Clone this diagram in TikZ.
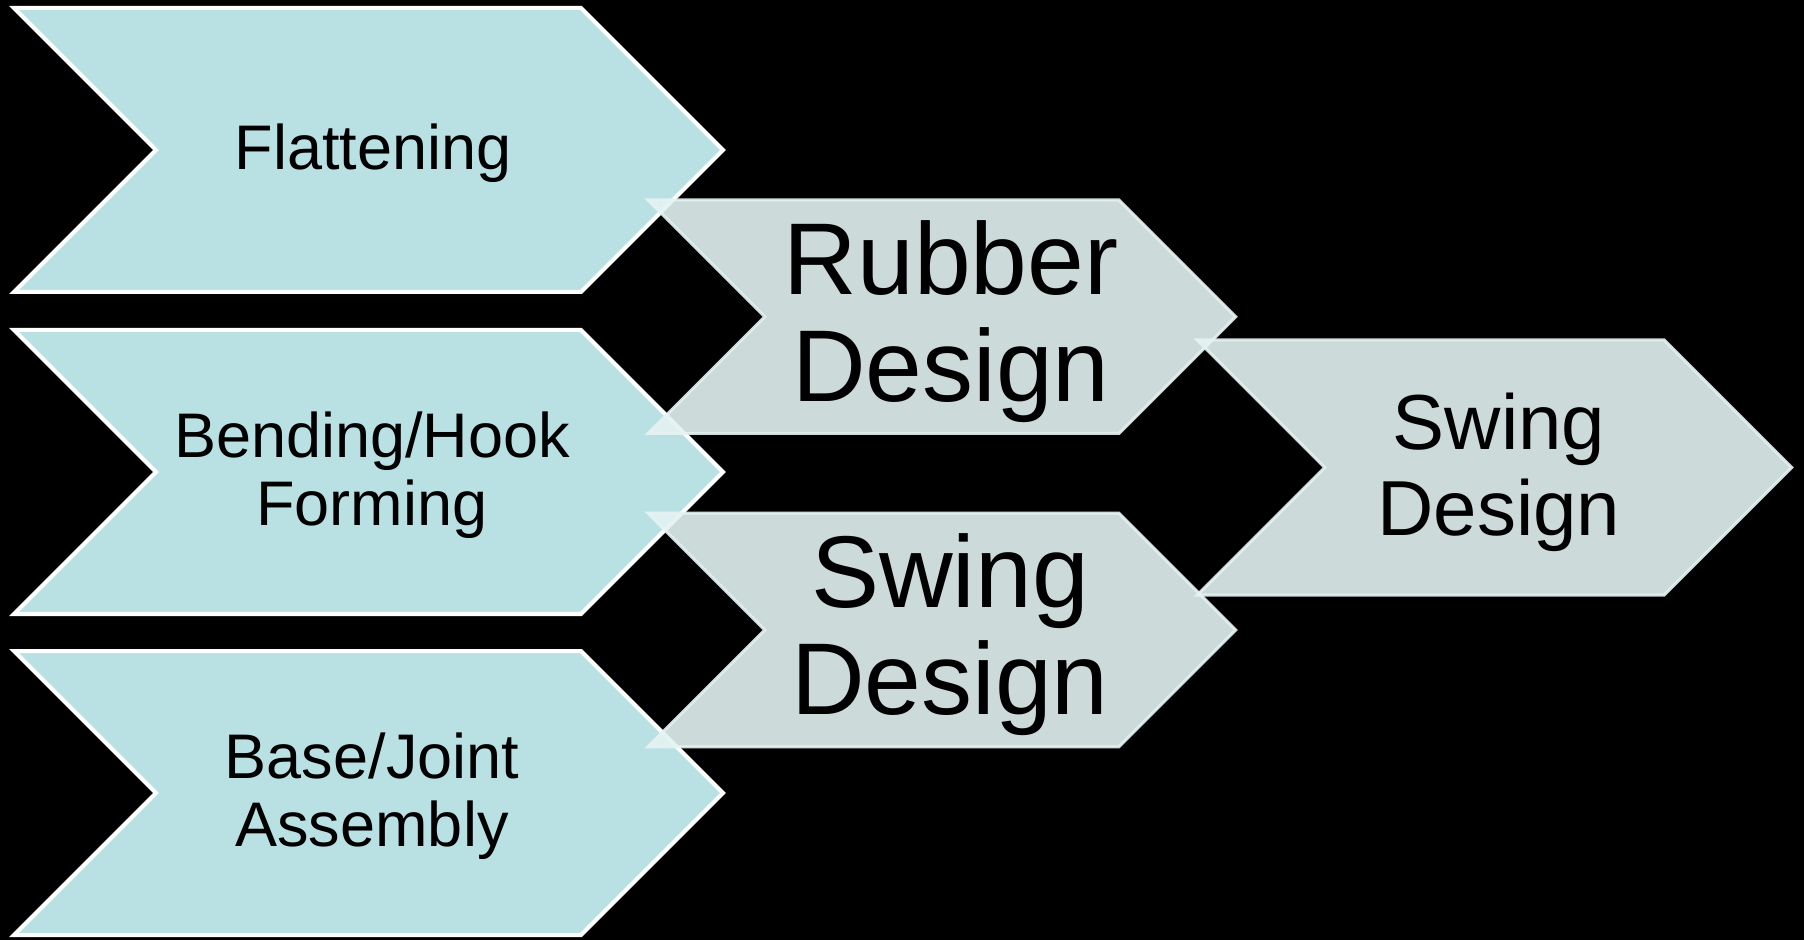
\documentclass[tikz,border=0pt]{standalone}
\usepackage{fontspec}
\setmainfont{Liberation Sans}
\definecolor{bluefill}{HTML}{B9E0E3}
\definecolor{grayfill}{HTML}{E3F2F2}
\definecolor{grayedge}{HTML}{E6F3F3}
\newcommand{\chevshape}[5][]{% [style] xl, yc, xr, h
  \path[#1] (#2,#3-#5) -- (#4,#3-#5) -- (#4+#5,#3) -- (#4,#3+#5) -- (#2,#3+#5) -- (#2+#5,#3) -- cycle;}
\tikzset{
  bluechev/.style={fill=bluefill, draw=white, line width=2pt, line join=miter},
  graychev/.style={fill=grayfill, fill opacity=0.9, draw=grayedge, draw opacity=0.9, line width=1.5pt, line join=miter},
  lefttext/.style={align=center, font=\fontsize{31.5}{34}\selectfont, text=black, inner sep=0pt},
  bigtext/.style={align=center, font=\fontsize{51}{53.5}\selectfont, text=black, inner sep=0pt},
  righttext/.style={align=center, font=\fontsize{39}{43}\selectfont, text=black, inner sep=0pt}
}
\begin{document}
\begin{tikzpicture}[x=0.5pt, y=-0.5pt]
\useasboundingbox (0,0) rectangle (1804,940);
\fill[black] (0,0) rectangle (1804,940);
% left chevrons
\chevshape[bluechev]{14}{150}{581}{142}
\chevshape[bluechev]{14}{472}{581}{142}
\chevshape[bluechev]{14}{793}{581}{142}
\node[lefttext] (flat) at (373,153) {Flattening};
\node[lefttext] (bend) at (372,475.5) {Bending/Hook\\Forming};
\node[lefttext] (base) at (372,796.5) {Base/Joint\\Assembly};
% middle chevrons
\chevshape[graychev]{648}{316.75}{1119}{116.75}
\chevshape[graychev]{648}{630}{1119}{116.75}
\node[bigtext] (rubber) at (951,322) {Rubber\\Design};
\node[bigtext] (swingA) at (950,635) {Swing\\Design};
% right chevron
\chevshape[graychev]{1197}{467.5}{1664}{127.7}
\node[righttext] (swingB) at (1499,472.7) {Swing\\Design};
\end{tikzpicture}
\end{document}
